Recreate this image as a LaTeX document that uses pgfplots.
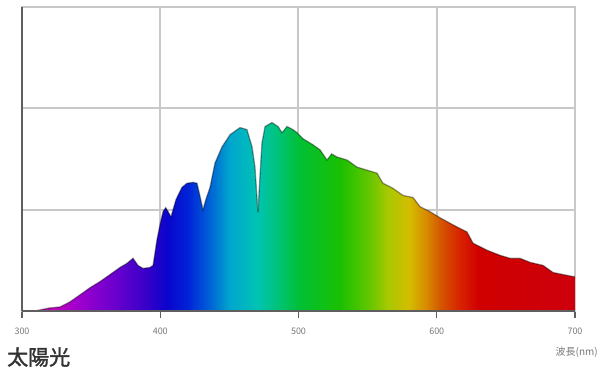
\documentclass[border=0pt]{standalone}
\usepackage{pgfplots}
\pgfplotsset{compat=1.18}
\usepackage{fontspec}
\newfontfamily\cjk{Noto Sans CJK JP}
\newfontfamily\cjkb[FakeBold=1.6]{Noto Sans CJK JP}
\definecolor{gridgray}{RGB}{200,200,200}
\definecolor{axgray}{RGB}{95,95,95}
\definecolor{txtgray}{RGB}{120,120,120}
\definecolor{s300}{RGB}{205,20,160}
\definecolor{s320}{RGB}{200,0,190}
\definecolor{s340}{RGB}{160,0,205}
\definecolor{s370}{RGB}{100,0,205}
\definecolor{s390}{RGB}{55,0,200}
\definecolor{s405}{RGB}{10,5,205}
\definecolor{s420}{RGB}{0,35,215}
\definecolor{s435}{RGB}{0,95,215}
\definecolor{s450}{RGB}{0,165,205}
\definecolor{s470}{RGB}{0,195,180}
\definecolor{s485}{RGB}{0,195,120}
\definecolor{s500}{RGB}{0,192,55}
\definecolor{s530}{RGB}{25,192,0}
\definecolor{s550}{RGB}{95,198,0}
\definecolor{s565}{RGB}{170,200,0}
\definecolor{s580}{RGB}{212,188,0}
\definecolor{s592}{RGB}{215,140,0}
\definecolor{s603}{RGB}{212,85,0}
\definecolor{s615}{RGB}{215,40,0}
\definecolor{s630}{RGB}{208,0,0}
\definecolor{s700}{RGB}{205,0,12}
\pgfdeclarehorizontalshading{spectrum}{100bp}{color(0bp)=(s300); color(25bp)=(s300); color(27.5bp)=(s320); color(30bp)=(s340); color(33.75bp)=(s370); color(36.25bp)=(s390); color(38.125bp)=(s405); color(40bp)=(s420); color(41.875bp)=(s435); color(43.75bp)=(s450); color(46.25bp)=(s470); color(48.125bp)=(s485); color(50bp)=(s500); color(53.75bp)=(s530); color(56.25bp)=(s550); color(58.125bp)=(s565); color(60bp)=(s580); color(61.5bp)=(s592); color(62.875bp)=(s603); color(64.375bp)=(s615); color(66.25bp)=(s630); color(75bp)=(s700); color(100bp)=(s700)}
\pgfplotstableread{
x y
300 0
309 0
320 0.03
327.5 0.04
334.7 0.09
342 0.16
349.2 0.23
356.4 0.29
363.7 0.36
370.9 0.43
375.9 0.47
380.3 0.52
383.9 0.45
387.5 0.42
392.6 0.43
394.8 0.45
397.6 0.70
399.8 0.85
402 0.98
404 1.02
407.8 0.93
411.4 1.10
415.7 1.22
419.3 1.26
423.7 1.27
426.6 1.26
428.8 1.13
430.9 1.00
433 1.10
436 1.22
439.6 1.46
444.7 1.62
450.5 1.74
457.7 1.81
462.7 1.79
466.4 1.62
468.5 1.42
470.7 0.97
472 1.30
473.6 1.66
475.8 1.82
480.8 1.86
485.2 1.82
488.1 1.76
491.7 1.82
496 1.79
498.9 1.76
503.3 1.70
510.5 1.64
515.6 1.59
520.6 1.49
524 1.55
527.8 1.52
535.1 1.49
542.3 1.42
549.5 1.39
556.8 1.36
561.1 1.26
568.4 1.21
575.6 1.14
582.8 1.12
587.9 1.03
595.1 0.98
602.4 0.92
611.8 0.85
621.9 0.78
626.2 0.67
636.3 0.60
645.7 0.55
653 0.52
660.2 0.52
667.5 0.48
676.9 0.45
684.1 0.38
691.3 0.36
698.6 0.34
700 0.34
}\spec
\begin{document}
\begin{tikzpicture}
\useasboundingbox (-22pt,-61pt) rectangle (576pt,311pt);
\begin{axis}[
  at={(0,0)}, anchor=south west,
  scale only axis, width=553pt, height=304pt,
  xmin=300, xmax=700, ymin=0, ymax=3,
  xtick={300,400,500,600,700},
  xticklabels={300,400,500,600,700},
  ytick={0,1,2,3}, yticklabels={},
  xtick pos=bottom, ytick pos=left,
  grid=major,
  major grid style={draw=gridgray, line width=2pt},
  axis line style={draw=gridgray, line width=2pt},
  tick align=outside,
  major tick length=7pt,
  xtick style={draw=axgray, line width=1.4pt},
  ytick style={draw=none},
  xticklabel style={font=\cjk\fontsize{9}{10}\selectfont, text=txtgray, yshift=-6pt},
  clip=false,
]
\addplot[shade, shading=spectrum, draw=none] table[x=x,y=y] {\spec} \closedcycle;
\addplot[draw=black, draw opacity=0.38, line width=1.3pt] table[x=x,y=y] {\spec};
\draw[axgray, line width=2pt] (rel axis cs:0,0) -- (rel axis cs:0,1);
\draw[axgray, line width=1.8pt] (rel axis cs:0,0) -- (rel axis cs:1,0);
\end{axis}
\node[font=\cjkb\fontsize{21}{22}\selectfont, text=black!80, anchor=west, inner sep=0pt] at (-15pt,-46pt) {太陽光};
\node[font=\cjk\fontsize{10}{11}\selectfont, text=txtgray, anchor=east, inner sep=0pt] at (576pt,-41pt) {波長(nm)};
\end{tikzpicture}
\end{document}
